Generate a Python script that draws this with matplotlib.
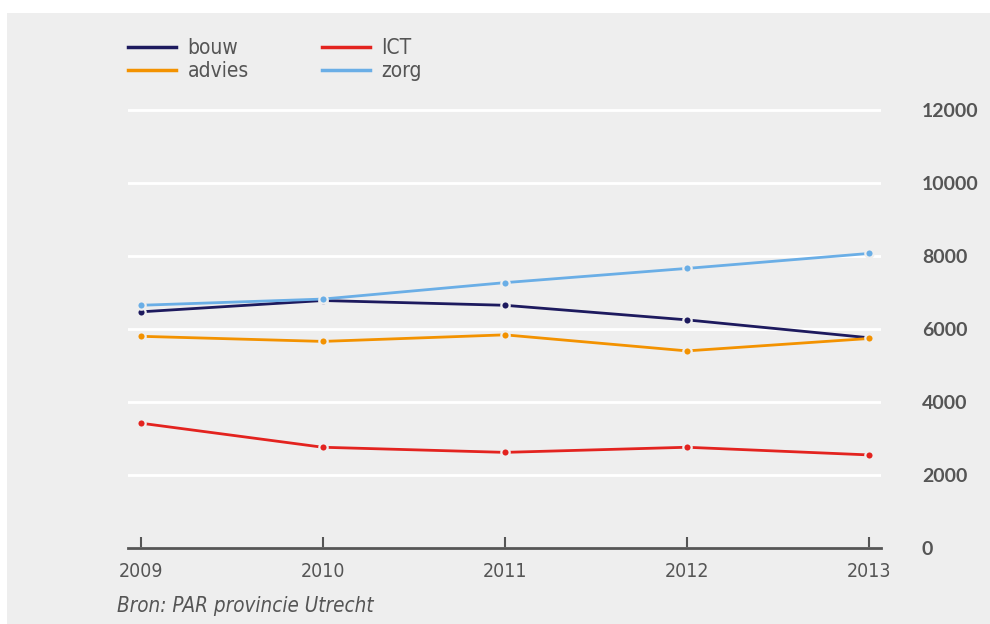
import matplotlib
matplotlib.use("Agg")
import matplotlib.pyplot as plt
from matplotlib.lines import Line2D
from matplotlib.patches import Rectangle

# waarden
years = [2009, 2010, 2011, 2012, 2013]
bouw = [6470, 6780, 6650, 6250, 5760]
ict = [3420, 2760, 2620, 2760, 2550]
advies = [5800, 5660, 5840, 5400, 5740]
zorg = [6650, 6820, 7270, 7660, 8070]

series = [
    ("bouw", bouw, "#1d1a5e"),
    ("ICT", ict, "#e3231f"),
    ("advies", advies, "#f39200"),
    ("zorg", zorg, "#6aaee6"),
]
yticks = [0, 2000, 4000, 6000, 8000, 10000, 12000]

BG = "#eeeeee"
TXT = "#555555"
narrow = ["DejaVu Sans Condensed", "DejaVu Sans"]

fig = plt.figure(figsize=(9.9, 6.24), dpi=100)
fig.patch.set_facecolor("white")
fig.add_artist(Rectangle((7 / 990, 0), 1, 1 - 13 / 624, transform=fig.transFigure,
                         facecolor=BG, edgecolor="none", zorder=-10))

ax = fig.add_axes([128 / 990, 1 - 548 / 624, (881 - 128) / 990, 452.6 / 624])
ax.patch.set_alpha(0)

for name, vals, col in series:
    ax.plot(years, vals, color=col, lw=2.0, marker="o", ms=6, mew=1.6,
            mfc=col, mec=BG, solid_capstyle="butt", zorder=3)

ax.set_xlim(2008.93, 2013.066)
ax.set_ylim(0, 12400)
ax.set_yticks(yticks)
ax.set_xticks(years)
ax.grid(axis="y", color="white", lw=2)
ax.set_axisbelow(True)

for s in ["top", "left", "right"]:
    ax.spines[s].set_visible(False)
ax.spines["bottom"].set_color(TXT)
ax.spines["bottom"].set_linewidth(2)
ax.spines["bottom"].set_zorder(4)

ax.yaxis.tick_right()
ax.tick_params(axis="y", length=0, pad=29.5, labelsize=14, labelcolor=TXT)
for lab in ax.get_yticklabels():
    lab.set_horizontalalignment("left")
    lab.set_fontweight("bold")
    lab.set_family("Lato")
ax.tick_params(axis="x", direction="in", length=8, width=1.5, color=TXT,
               labelsize=14, labelcolor=TXT, pad=10)
for lab in ax.get_xticklabels():
    lab.set_family(narrow)
    lab.set_stretch("condensed")

handles = [Line2D([], [], color=c, lw=2.5) for _, _, c in
           [series[0], series[2], series[1], series[3]]]
labels = ["bouw", "advies", "ICT", "zorg"]
fig.legend(handles, labels, loc="upper left", bbox_to_anchor=(120 / 990, 1 - 30 / 624),
           ncol=2, frameon=False, handlelength=2.3, handletextpad=0.55,
           columnspacing=3.5, labelspacing=0.15,
           prop={"family": narrow, "size": 15, "stretch": "condensed"},
           labelcolor=TXT, borderaxespad=0)

fig.text(117 / 990, 1 - 606 / 624, "Bron: PAR provincie Utrecht", fontsize=14.8,
         style="italic", stretch="condensed", color=TXT, family=narrow, va="center")

fig.savefig("out.png", dpi=100, facecolor=fig.get_facecolor())
